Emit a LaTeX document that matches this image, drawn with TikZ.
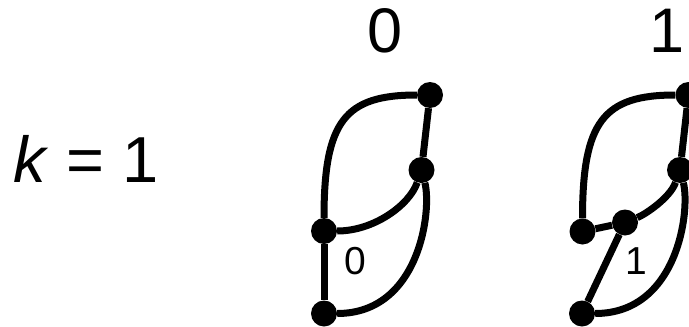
\documentclass[tikz,border=0pt]{standalone}
\usepackage{fontspec}
\setmainfont{Liberation Sans}
\begin{document}
\begin{tikzpicture}[x=1pt,y=-1pt,
  dot/.style={circle, fill=black, inner sep=0pt, minimum size=26pt},
  edge/.style={line width=7pt, black},
  biglabel/.style={inner sep=0pt, font=\fontsize{63}{70}\selectfont},
  smalllabel/.style={inner sep=0pt, font=\fontsize{39}{44}\selectfont}]
\useasboundingbox (0,0) rectangle (689,327);
\node[inner sep=0pt, anchor=base west, font=\fontsize{65}{70}\selectfont] (klabel) at (13,182) {\textit{k} = 1};
\node[biglabel] (t0) at (385,30.5) {0};
\node[biglabel] (t1) at (667.5,30.5) {1};
% left figure
\node[dot] (A) at (430,95) {};
\node[dot] (B) at (421.5,170) {};
\node[dot] (C) at (324,231) {};
\node[dot] (D) at (324,313.5) {};
\draw[edge] (C) .. controls +(0,-110) and +(-85,0) .. (A);
\draw[edge] (A) -- (B);
\draw[edge] (C) .. controls +(50,0) and +(-12,35) .. (B);
\draw[edge] (C) -- (D);
\draw[edge] (D) .. controls +(96,0) and +(10.5,40) .. (B);
\node[smalllabel] (l0) at (355.5,261) {0};
% right figure
\node[dot] (A2) at (688.5,95) {};
\node[dot] (B2) at (680,170) {};
\node[dot] (C2) at (582.5,231.5) {};
\node[dot] (E2) at (625,222.5) {};
\node[dot] (D2) at (582,313.5) {};
\draw[edge] (C2) .. controls +(0,-110) and +(-85,0) .. (A2);
\draw[edge] (A2) -- (B2);
\draw[edge] (C2) -- (E2);
\draw[edge] (E2) .. controls +(20,-8) and +(-10,28) .. (B2);
\draw[edge] (E2) -- (D2);
\draw[edge] (D2) .. controls +(96,0) and +(10.5,40) .. (B2);
\node[smalllabel] (l1) at (636,261) {1};
\end{tikzpicture}
\end{document}
